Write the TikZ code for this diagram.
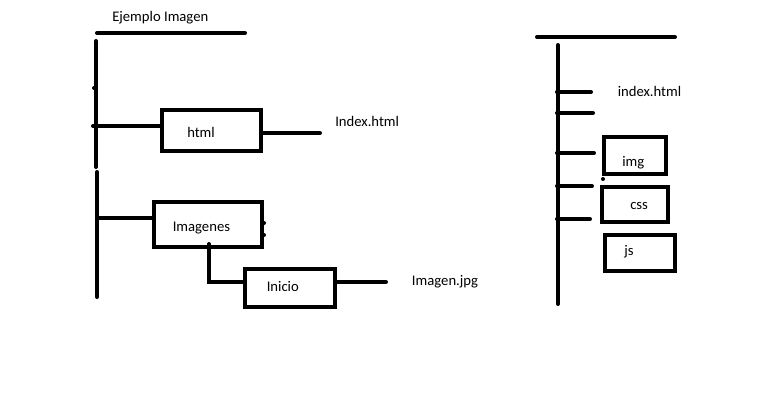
\documentclass[tikz,border=0pt]{standalone}
\usepackage{fontspec}
\setmainfont{Carlito}
\begin{document}
\begin{tikzpicture}[x=0.75pt,y=-0.75pt,
  thick line/.style={line width=3pt,line cap=round},
  folder/.style={draw,line width=3pt,minimum width={#1},inner sep=0pt,fill=white},
  lbl/.style={anchor=base west,inner sep=0pt,font=\fontsize{11}{13}\selectfont}]
\useasboundingbox[fill=white] (0,0) rectangle (782,418);
% ---------- left tree ----------
\node[lbl] (tEj) at (112,21) {Ejemplo Imagen};
\coordinate (topL1) at (97,33);
\coordinate (topL2) at (245,33);
\draw[thick line] (topL1) -- (topL2);
\coordinate (vA1) at (96,41);
\coordinate (vA2) at (96,167);
\coordinate (vB1) at (97,172);
\coordinate (vB2) at (97,297);
\draw[thick line] (vA1) -- (vA2);
\draw[thick line] (vB1) -- (vB2);
\fill (94,88) circle (1.5pt);

\node[folder={99*0.75pt},minimum height={41*0.75pt}] (html) at (211.5,130.5) {};
\node[folder={108*0.75pt},minimum height={45*0.75pt}] (imgs) at (208,224) {};
\node[folder={90*0.75pt},minimum height={38*0.75pt}] (ini) at (290,287.5) {};

\node[lbl] (tHtml) at (187,137) {html};
\node[lbl] (tImgs) at (172.5,231) {Imagenes};
\node[lbl] (tIni) at (266.5,291.5) {Inicio};
\node[lbl] (tIdx) at (335,126.7) {Index.html};
\node[lbl] (tJpg) at (411.7,285) {Imagen.jpg};

\coordinate (jHtml) at (93,126);
\coordinate (jImgs) at (97,218);
\draw[thick line] (jHtml) -- (html.west |- jHtml);
\draw[thick line] (jImgs) -- (imgs.west |- jImgs);
\coordinate (eHtml) at (320,133);
\draw[thick line] (html.east |- eHtml) -- (eHtml);
\coordinate (kImgs) at (209,244);
\coordinate (cornerI) at (209,282);
\draw[thick line] (kImgs) -- (cornerI) -- (ini.west |- cornerI);
\coordinate (eIni) at (386,282);
\draw[thick line] (ini.east |- eIni) -- (eIni);
\fill (264,223) circle (1.5pt);
\fill (264,235) circle (1.5pt);

% ---------- right tree ----------
\coordinate (topR1) at (537,37);
\coordinate (topR2) at (675,37);
\draw[thick line] (topR1) -- (topR2);
\coordinate (vR1) at (558,45);
\coordinate (vR2) at (558,304);
\draw[thick line] (vR1) -- (vR2);
\foreach \yy/\xe in {92/591,113/593,153/594,186/592,219/590}{
  \draw[thick line] (557,\yy) -- (\xe,\yy);
}
\node[folder={62*0.75pt},minimum height={37*0.75pt}] (img) at (634.5,155.5) {};
\node[folder={66*0.75pt},minimum height={35*0.75pt}] (css) at (635,204.5) {};
\node[folder={70*0.75pt},minimum height={36*0.75pt}] (js) at (640,252.5) {};
\fill (603,179) circle (1.5pt);
\node[lbl] (tIdx2) at (617.5,96.7) {index.html};
\node[lbl] (tImg) at (622,166.5) {img};
\node[lbl] (tCss) at (630,209.5) {css};
\node[lbl] (tJs) at (624,255.5) {js};
\end{tikzpicture}
\end{document}
